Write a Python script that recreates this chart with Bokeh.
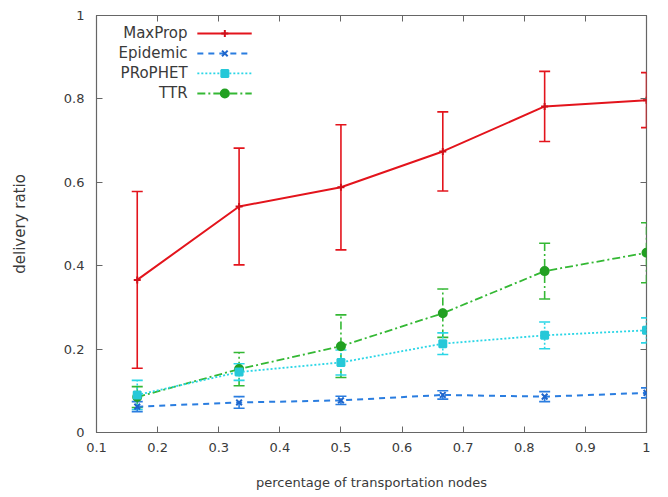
from bokeh.plotting import figure
from bokeh.models import (ColumnDataSource, Whisker, TeeHead, LinearAxis, Label,
                          FixedTicker, Range1d)
from bokeh.embed import file_html
from bokeh.resources import INLINE

# fraction of transportation nodes
x_vals = [1/6, 2/6, 3/6, 4/6, 5/6, 1.0]

maxprop = [0.366, 0.542, 0.588, 0.674, 0.782, 0.797]
maxprop_err = [0.212, 0.140, 0.150, 0.095, 0.084, 0.066]

epidemic = [0.062, 0.072, 0.077, 0.090, 0.086, 0.095]
epidemic_err = [0.012, 0.014, 0.010, 0.010, 0.012, 0.012]

prophet = [0.090, 0.145, 0.168, 0.213, 0.233, 0.245]
prophet_err = [0.035, 0.020, 0.030, 0.026, 0.032, 0.030]

ttr = [0.085, 0.152, 0.207, 0.286, 0.387, 0.431]
ttr_err = [0.025, 0.040, 0.075, 0.058, 0.067, 0.072]

series_names = ["MaxProp", "Epidemic", "PRoPHET", "TTR"]
x_ticks = [0.1, 0.2, 0.3, 0.4, 0.5, 0.6, 0.7, 0.8, 0.9, 1.0]
y_ticks = [0, 0.2, 0.4, 0.6, 0.8, 1.0]

TEXT = "#3a3a3a"
FONT = "DejaVu Sans"

p = figure(width=668, height=497, output_backend="svg", toolbar_location=None,
           x_range=Range1d(0.1, 1.0), y_range=Range1d(0, 1.0),
           min_border_left=96, min_border_right=22, min_border_top=15,
           min_border_bottom=65)
p.xgrid.visible = False
p.ygrid.visible = False
p.outline_line_color = "#666666"
p.outline_line_width = 1.2
p.background_fill_color = "white"

for ax, ticks in ((p.xaxis[0], x_ticks), (p.yaxis[0], y_ticks)):
    ax.ticker = FixedTicker(ticks=ticks)
    ax.major_tick_in = 6
    ax.major_tick_out = 0
    ax.minor_tick_in = 0
    ax.minor_tick_out = 0
    ax.axis_line_color = "#666666"
    ax.major_tick_line_color = "#666666"
    ax.major_label_text_font = FONT
    ax.major_label_text_font_size = "13px"
    ax.major_label_text_color = TEXT
    ax.axis_label_text_font = FONT
    ax.axis_label_text_font_style = "normal"
    ax.axis_label_text_color = TEXT

p.xaxis[0].major_label_overrides = {1.0: "1"}
p.yaxis[0].major_label_overrides = {0: "0", 1.0: "1"}
p.xaxis[0].major_label_standoff = 10
p.yaxis[0].major_label_standoff = 12
p.xaxis[0].axis_label = "percentage of transportation nodes"
p.xaxis[0].axis_label_text_font_size = "13px"
p.xaxis[0].axis_label_standoff = 20
p.yaxis[0].axis_label = "delivery ratio"
p.yaxis[0].axis_label_text_font_size = "15px"
p.yaxis[0].axis_label_standoff = 32

# mirrored ticks on the top and right edges, without labels
for loc, ticks in (("above", x_ticks), ("right", y_ticks)):
    ax = LinearAxis(ticker=FixedTicker(ticks=ticks), major_tick_in=6, major_tick_out=0,
                    minor_tick_in=0, minor_tick_out=0, axis_line_color=None,
                    major_tick_line_color="#666666",
                    major_label_overrides={t: "" for t in ticks},
                    major_label_standoff=0)
    p.add_layout(ax, loc)

styles = [
    dict(vals=maxprop, err=maxprop_err, color="#e3141c", dash="solid", width=2.0,
         marker="cross", msize=7, mcolor="#d0101a"),
    dict(vals=epidemic, err=epidemic_err, color="#2a7de0", dash="6 5", width=2.0,
         marker="x", msize=8, mcolor="#1f66cc"),
    dict(vals=prophet, err=prophet_err, color="#2ad6e6", dash="2 2", width=1.8,
         marker="square", msize=7, mcolor="#26c8d8"),
    dict(vals=ttr, err=ttr_err, color="#34b834", dash="8 3 2 3", width=1.8,
         marker="circle", msize=8, mcolor="#22a022"),
]

for s in reversed(styles):
    src = ColumnDataSource(dict(
        x=x_vals, y=s["vals"],
        upper=[v + e for v, e in zip(s["vals"], s["err"])],
        lower=[v - e for v, e in zip(s["vals"], s["err"])],
    ))
    p.add_layout(Whisker(source=src, base="x", upper="upper", lower="lower",
                         line_color=s["color"], line_width=1.6,
                         line_dash=s["dash"],
                         upper_head=TeeHead(size=11, line_color=s["color"], line_width=1.6),
                         lower_head=TeeHead(size=11, line_color=s["color"], line_width=1.6)))
    p.line("x", "y", source=src, line_color=s["color"], line_width=s["width"],
           line_dash=s["dash"])
    p.scatter("x", "y", source=src, marker=s["marker"], size=s["msize"],
              fill_color=s["mcolor"], line_color=s["mcolor"], line_width=2)

# key in the upper-left corner: label, then a line sample with its marker
key_label_x = 0.249
key_x0, key_x1, key_xm = 0.265, 0.354, 0.31
key_rows = [0.957, 0.909, 0.861, 0.813]
for name, s, ky in zip(series_names, styles, key_rows):
    p.add_layout(Label(x=key_label_x, y=ky, text=name, text_align="right",
                       text_baseline="middle", text_font=FONT, text_font_size="15px",
                       text_color=TEXT))
    p.line([key_x0, key_x1], [ky, ky], line_color=s["color"], line_width=s["width"],
           line_dash=s["dash"])
    p.scatter([key_xm], [ky], marker=s["marker"], size=s["msize"],
              fill_color=s["mcolor"], line_color=s["mcolor"], line_width=2)

open("out.html", "w").write(file_html(p, INLINE))
